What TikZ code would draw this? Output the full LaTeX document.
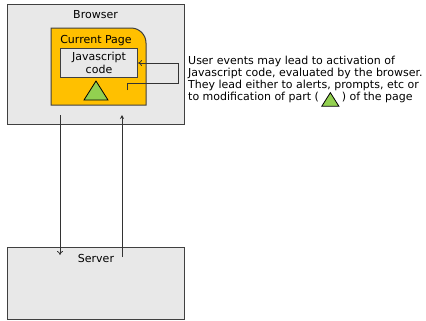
\documentclass[tikz,border=0pt]{standalone}
\usepackage{fontspec}
\setmainfont{DejaVu Sans}
\usetikzlibrary{arrows.meta}
\definecolor{boxgray}{HTML}{E8E8E8}
\definecolor{edgegray}{HTML}{404040}
\definecolor{pageorange}{HTML}{FFC000}
\definecolor{trigreen}{HTML}{92D050}
\tikzset{
  panel/.style={draw=edgegray, line width=1bp, fill=boxgray},
  lbl/.style={font=\fontsize{11bp}{12.2bp}\selectfont, inner sep=0pt, text=black},
  link/.style={draw=black!80, line width=0.8bp},
}
\begin{document}
\begin{tikzpicture}[x=1bp, y=-1bp]
\useasboundingbox (0,0) rectangle (426,321);
\fill[white] (0,0) rectangle (426,321);
% Browser
\draw[panel] (7,4) rectangle (184,124);
\node[lbl] (browser) at (95.5,15) {Browser};
% Current page
\path[draw=edgegray, line width=1bp, fill=pageorange]
  (51,105) -- (51,28) [rounded corners=15bp] -- (146,28) [sharp corners] -- (146,105) -- cycle;
\node[lbl, anchor=base] (page) at (96,43) {Current Page};
% Javascript box
\node[panel, minimum width=77bp, minimum height=29bp, inner sep=0pt, anchor=north west,
      align=center, font=\fontsize{11bp}{12.5bp}\selectfont] (js) at (60,48) {Javascript\\code};
% triangle
\draw[fill=trigreen, draw=black, line width=0.8bp] (84,100) -- (108,100) -- (96,81) -- cycle;
% event connector
\coordinate (evstart) at (127,90);
\draw[link, -{To[length=4bp,width=6bp]}] (evstart) -- (127,83) -- (178,83) |- (js.east);
% description
\node[lbl, anchor=north west, align=left] (desc) at (188,55.5) {User events may lead to activation of\\
Javascript code, evaluated by the browser.\\
They lead either to alerts, prompts, etc or\\
to modification of part (\hspace{2.5bp}\tikz[baseline=0pt]\draw[fill=trigreen, draw=black, line width=0.8bp] (0bp,-5.5bp) -- (17bp,-5.5bp) -- (8.5bp,8bp) -- cycle;\hspace{2.5bp}) of the page};
% Server
\draw[panel] (7,247) rectangle (184,319);
\node[lbl] (server) at (96,258) {Server};
% request/response
\coordinate (reqtop) at (60,115);
\coordinate (reqbot) at (60,255);
\coordinate (resbot) at (122,257);
\coordinate (restop) at (122,115);
\draw[link, -{To[length=4bp,width=6bp]}] (reqtop) -- (reqbot);
\draw[link, -{Stealth[length=4bp,width=4bp]}] (resbot) -- (restop);
\end{tikzpicture}
\end{document}
